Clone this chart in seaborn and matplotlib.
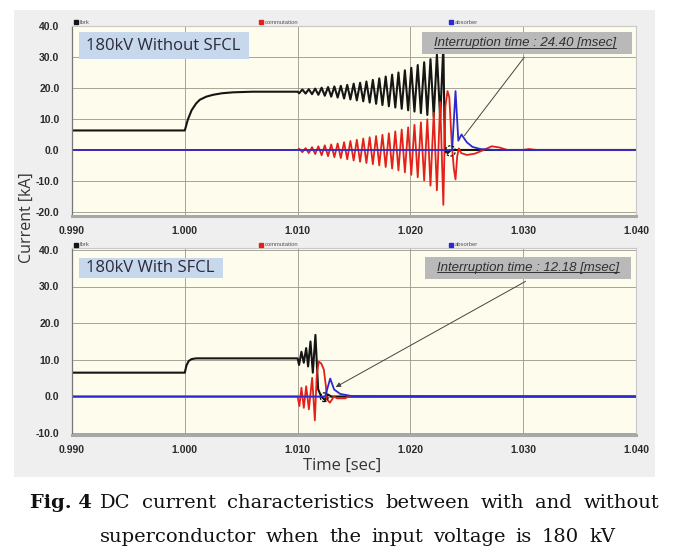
import matplotlib
matplotlib.use('Agg')
import matplotlib.pyplot as plt
import seaborn as sns
from matplotlib.patches import Rectangle, Ellipse
from matplotlib.lines import Line2D

# ---- data (time [s], current [kA]) ----
# shared extremum times of the oscillation before interruption (top panel)
osc_t = [1.01014, 1.01042, 1.01071, 1.01099, 1.01128, 1.01156, 1.01184, 1.01213,
         1.01241, 1.01270, 1.01298, 1.01326, 1.01355, 1.01383, 1.01412, 1.01440,
         1.01468, 1.01497, 1.01525, 1.01554, 1.01582, 1.01610, 1.01639, 1.01667,
         1.01696, 1.01724, 1.01752, 1.01781, 1.01809, 1.01838, 1.01866, 1.01894,
         1.01923, 1.01951, 1.01980, 1.02008, 1.02036, 1.02065, 1.02093, 1.02122,
         1.02150, 1.02178, 1.02207, 1.02235, 1.02264, 1.02292]
top_brk_osc = [18.3, 19.5, 18.2, 19.6, 18.0, 19.8, 17.8, 20.1, 17.5, 20.3, 17.2, 20.5,
               16.9, 20.7, 16.6, 21.0, 16.3, 21.4, 16.0, 21.7, 15.7, 22.1, 15.3, 22.6,
               14.9, 23.1, 14.5, 23.7, 14.1, 24.3, 13.7, 25.0, 13.3, 25.7, 12.8, 26.5,
               12.4, 27.4, 11.9, 28.3, 11.3, 29.3, 10.8, 30.8, 10.2, 33.5]
top_com_osc = [0.4, -0.7, 0.6, -1.0, 0.9, -1.3, 1.2, -1.7, 1.5, -2.0, 1.8, -2.3,
               2.1, -2.6, 2.5, -3.0, 2.9, -3.4, 3.3, -3.8, 3.7, -4.2, 4.1, -4.6,
               4.5, -5.0, 4.9, -5.5, 5.4, -6.0, 6.0, -6.6, 6.6, -7.2, 7.3, -8.0,
               8.1, -8.8, 8.9, -9.8, 9.9, -11.5, 12.0, -13.0, 15.5, -17.7]

top_brk_pre_t = [0.990, 1.0000, 1.00027, 1.00060, 1.00100, 1.00133, 1.00190, 1.00250,
                 1.00330, 1.00427, 1.00600, 1.01000]
top_brk_pre_v = [6.3, 6.3, 9.8, 12.8, 15.0, 16.2, 17.2, 17.8, 18.3, 18.6, 18.8, 18.8]
top_brk_post_t = [1.02305, 1.02330, 1.02360, 1.04000]
top_brk_post_v = [0.5, -1.0, 0.0, 0.0]

top_com_pre_t = [0.990, 1.01000]
top_com_pre_v = [0.0, 0.0]
top_com_post_t = [1.02310, 1.02329, 1.02345, 1.02365, 1.02385, 1.02400, 1.02415, 1.02430,
                  1.02450, 1.02500, 1.02570, 1.02650, 1.02720, 1.02790, 1.02860, 1.03000,
                  1.03050, 1.03120, 1.04000]
top_com_post_v = [14.0, 19.0, 17.0, 3.0, -6.0, -9.5, -2.0, 0.5, -1.0, -1.6, -1.2, 0.0,
                  1.2, 0.8, 0.0, 0.0, 0.3, 0.0, 0.0]

top_abs_t = [0.990, 1.02370, 1.02400, 1.02425, 1.02453, 1.02500, 1.02550, 1.02620,
             1.02750, 1.04000]
top_abs_v = [0.0, 0.0, 19.0, 3.0, 5.0, 2.5, 1.0, 0.3, 0.0, 0.0]

bot_brk_t = [0.990, 1.0000, 1.00015, 1.00035, 1.00060, 1.00100, 1.01000, 1.01013,
             1.01034, 1.01055, 1.01076, 1.01093, 1.01114, 1.01135, 1.01158, 1.01182,
             1.01209, 1.01244, 1.01270, 1.01300, 1.04000]
bot_brk_v = [6.5, 6.5, 8.5, 9.7, 10.2, 10.4, 10.4, 8.6, 12.2, 9.2, 13.2, 8.2, 15.0,
             6.5, 16.8, 2.0, 0.0, -1.0, 0.5, 0.0, 0.0]
bot_com_t = [0.990, 1.01000, 1.01016, 1.01034, 1.01055, 1.01076, 1.01100, 1.01129,
             1.01153, 1.01170, 1.01188, 1.01210, 1.01233, 1.01250, 1.01262, 1.01286,
             1.01322, 1.01350, 1.01422, 1.01450, 1.04000]
bot_com_v = [0.0, 0.0, -2.6, 2.4, -3.1, 2.8, -3.5, 5.1, -6.5, 6.0, 9.5, 9.0, 7.3, 3.0,
             -0.8, -1.7, 0.0, -0.5, -0.5, 0.0, 0.0]
bot_abs_t = [0.990, 1.01244, 1.01289, 1.01324, 1.01378, 1.01484, 1.04000]
bot_abs_v = [0.0, 0.0, 4.9, 1.9, 0.7, 0.1, 0.0]

x_ticks = [0.990, 1.000, 1.010, 1.020, 1.030, 1.040]
top_yticks = [-20, -10, 0, 10, 20, 30, 40]
bot_yticks = [-10, 0, 10, 20, 30, 40]
series_names = ['Ibrk', 'commutation', 'absorber']
series_colors = ['#151515', '#e3211c', '#2a2ad0']

W, H = 678, 553

sns.set_theme(style='white')
plt.rcParams['font.family'] = ['Liberation Sans', 'DejaVu Sans']

fig = plt.figure(figsize=(W / 100, H / 100), dpi=100)
fig.patch.set_facecolor('white')


def fx(px):
    return px / W


def fy(py):
    return 1 - py / H


def fig_box(x0, y0, x1, y1, color, z=5):
    fig.add_artist(Rectangle((fx(x0), fy(y1)), fx(x1 - x0), (y1 - y0) / H,
                             transform=fig.transFigure, facecolor=color,
                             edgecolor='none', zorder=z))


# grey panel behind both charts
fig_box(14, 10, 655, 477, '#efefef', z=-5)

ax1 = fig.add_axes([fx(72), fy(216), fx(636 - 72), 190 / H])
ax2 = fig.add_axes([fx(72), fy(435), fx(636 - 72), 187 / H])


def panel(ax, brk, com, ab, ylim, yticks):
    ax.set_facecolor('#fefcec')
    for (t, v), c, lw in zip([brk, com, ab], series_colors, [1.5, 1.3, 1.3]):
        sns.lineplot(x=t, y=v, ax=ax, color=c, lw=lw, estimator=None, sort=False)
    ax.set_xlim(0.990, 1.040)
    ax.set_ylim(*ylim)
    ax.set_xticks(x_ticks)
    ax.set_xticklabels([f'{v:.3f}' for v in x_ticks])
    ax.set_yticks(yticks)
    ax.set_yticklabels([f'{v:.1f}' for v in yticks])
    ax.grid(True, color='#9a968a', lw=0.6)
    ax.set_axisbelow(True)
    ax.tick_params(length=0, labelsize=7.5, colors='#2a2a2a', pad=7)
    ax.tick_params(axis='y', pad=9)
    for lab in ax.get_xticklabels() + ax.get_yticklabels():
        lab.set_fontweight('bold')
    for s in ['top', 'right']:
        ax.spines[s].set_color('#c8c8c8')
        ax.spines[s].set_linewidth(0.8)
    ax.spines['left'].set_color('#777777')
    ax.spines['left'].set_linewidth(0.9)
    ax.spines['bottom'].set_color('#a8a8a8')
    ax.spines['bottom'].set_linewidth(2.2)
    ax.set_xlabel('')
    ax.set_ylabel('')


panel(ax1,
      (top_brk_pre_t + osc_t + top_brk_post_t, top_brk_pre_v + top_brk_osc + top_brk_post_v),
      (top_com_pre_t + osc_t + top_com_post_t, top_com_pre_v + top_com_osc + top_com_post_v),
      (top_abs_t, top_abs_v), (-21.3, 40), top_yticks)
panel(ax2, (bot_brk_t, bot_brk_v), (bot_com_t, bot_com_v), (bot_abs_t, bot_abs_v),
      (-10.5, 40.5), bot_yticks)

# dashed circles at the current zero
ax1.add_patch(Ellipse((1.02355, -0.3), 0.0009, 3.3, fill=False, ec='#111111',
                      lw=0.9, ls=(0, (2, 1.2)), zorder=6))
ax2.add_patch(Ellipse((1.01236, -0.2), 0.0007, 2.4, fill=False, ec='#111111',
                      lw=0.9, ls=(0, (2, 1.2)), zorder=6))

ax1.annotate('', xy=(1.02463, 3.9), xytext=(526, H - 55), textcoords='figure pixels',
             arrowprops=dict(arrowstyle='-', color='#444444', lw=0.7))
ax2.annotate('', xy=(1.01316, 2.2), xytext=(528, H - 280), textcoords='figure pixels',
             arrowprops=dict(arrowstyle='-|>', color='#444444', lw=0.7,
                             mutation_scale=7))

# legend strips above each chart
for ytop in [22, 245]:
    for xm, name, c in zip([76, 261, 451], series_names, series_colors):
        fig.add_artist(Line2D([fx(xm)], [fy(ytop)], marker='s', ms=2.2, color=c,
                              transform=fig.transFigure))
        fig.text(fx(xm + 4), fy(ytop), name, fontsize=4.2, color='#555555',
                 va='center', ha='left')

# title boxes
fig_box(79, 32, 249, 59, '#c7d7ec')
fig_box(79, 258, 223, 278, '#c7d7ec')
fig.text(fx(86), fy(45.5), '180kV Without SFCL', fontsize=12, color='#2a2a3a',
         family='Open Sans', va='center', ha='left', zorder=7)
fig.text(fx(86), fy(268), '180kV With SFCL', fontsize=12, color='#2a2a3a',
         family='Open Sans', va='center', ha='left', zorder=7)

# interruption time notes
fig_box(422, 32, 632, 54, '#b9b9b9')
fig_box(425, 257, 631, 279, '#b9b9b9')
notes = [fig.text(fx(525), fy(43), 'Interruption time : 24.40 [msec]', fontsize=9.5,
                  style='italic', color='#303030', ha='center', va='center', zorder=7),
         fig.text(fx(528), fy(268), 'Interruption time : 12.18 [msec]', fontsize=9.5,
                  style='italic', color='#303030', ha='center', va='center', zorder=7)]

# axis titles
fig.text(fx(27), fy(218), 'Current [kA]', rotation=90, fontsize=11.5, color='#333333',
         family='Open Sans', ha='center', va='center')
fig.text(fx(342), fy(466), 'Time [sec]', fontsize=12, color='#333333',
         family='Open Sans', ha='center', va='center')

# caption
cap_font = 'DejaVu Serif'
fig.text(fx(30), fy(503), 'Fig. 4', fontsize=14, fontweight='bold', color='#111111',
         family=cap_font, ha='left', va='center')
cap_lines = [('DC current characteristics between with and without', 100, 659, 503),
             ('superconductor when the input voltage is 180 kV', 100, 615, 537)]

fig.canvas.draw()
r = fig.canvas.get_renderer()

# underline the note texts
for t in notes:
    bb = t.get_window_extent(r)
    fig.add_artist(Line2D([bb.x0 / W, bb.x1 / W], [(bb.y0 + 1.5) / H] * 2, lw=0.7,
                          color='#303030', transform=fig.transFigure, zorder=8))

# justified caption lines
for line, x0, x1, y in cap_lines:
    words = line.split()
    objs = [fig.text(0, fy(y), w, fontsize=14, color='#111111', family=cap_font,
                     ha='left', va='center') for w in words]
    widths = [o.get_window_extent(r).width for o in objs]
    gap = (x1 - x0 - sum(widths)) / (len(words) - 1)
    xpos = x0
    for o, w in zip(objs, widths):
        o.set_x(fx(xpos))
        xpos += w + gap

fig.savefig('out.png', dpi=100)
